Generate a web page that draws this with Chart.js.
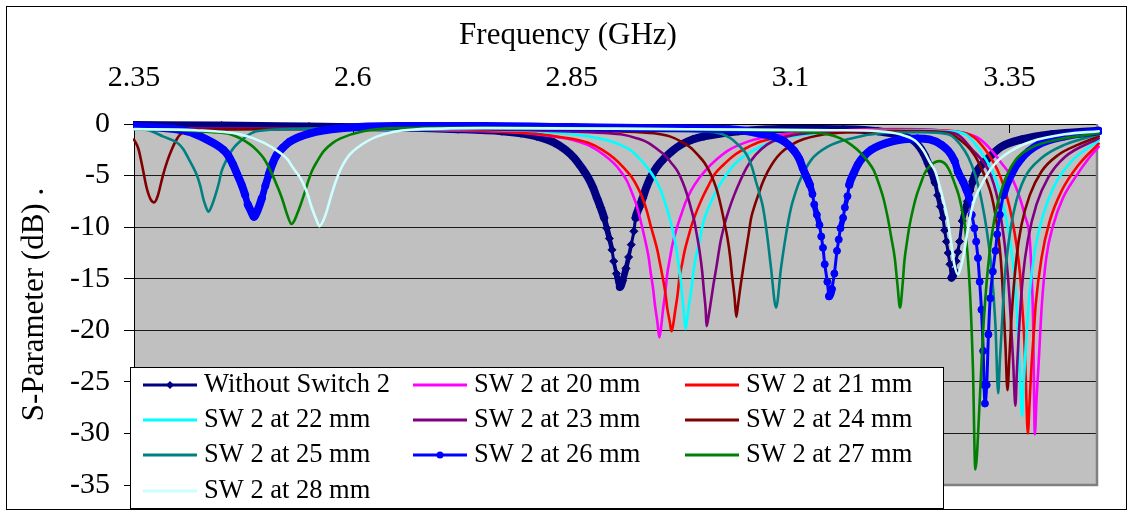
<!DOCTYPE html>
<html>
<head>
<meta charset="utf-8">
<script src="https://cdn.jsdelivr.net/npm/chart.js@4.4.0/dist/chart.umd.min.js"></script>
<style>
  html, body { margin: 0; padding: 0; background: #fff; }
  canvas { display: block; }
</style>
</head>
<body>
<canvas id="sparamChart" width="1136" height="512"></canvas>
<script>
// frequency axis ticks (GHz)
var xTickValues = [2.35, 2.6, 2.85, 3.1, 3.35];
var xTickLabels = ['2.35', '2.6', '2.85', '3.1', '3.35'];

var seriesNames = ['Without Switch 2', 'SW 2 at 20 mm', 'SW 2 at 21 mm', 'SW 2 at 22 mm', 'SW 2 at 23 mm',
  'SW 2 at 24 mm', 'SW 2 at 25 mm', 'SW 2 at 26 mm', 'SW 2 at 27 mm', 'SW 2 at 28 mm'];
var seriesColors = ['#000080', '#FF00FF', '#FF0000', '#00FFFF', '#800080',
  '#800000', '#008080', '#0000FF', '#008000', '#CCFFFF'];

// [frequency GHz, S-parameter dB]
var noSwitch = [[2.35,-0.1],[2.45,-0.15],[2.55,-0.25],[2.65,-0.35],[2.72,-0.5],[2.77,-0.7],[2.792,-0.9],[2.81,-1.2],[2.83,-1.8],[2.843,-2.5],[2.853,-3.3],[2.861,-4.2],[2.868,-5.1],[2.874,-6.1],[2.879,-7.2],[2.883,-8.1],[2.887,-9.1],[2.890,-10.1],[2.893,-11.1],[2.896,-12.2],[2.898,-13.3],[2.901,-14.5],[2.905,-15.8],[2.908,-15.2],[2.912,-14.0],[2.915,-12.9],[2.918,-11.7],[2.921,-10.4],[2.923,-9.1],[2.927,-8.1],[2.931,-7.2],[2.935,-6.2],[2.940,-5.2],[2.947,-4.2],[2.956,-3.3],[2.965,-2.6],[2.975,-2.0],[2.988,-1.5],[3.001,-1.2],[3.040,-0.7],[3.10,-0.45],[3.16,-0.5],[3.20,-0.7],[3.225,-1.1],[3.242,-1.7],[3.248,-2.3],[3.253,-3.0],[3.257,-3.8],[3.261,-4.6],[3.265,-5.7],[3.268,-6.9],[3.271,-8.0],[3.274,-9.1],[3.276,-10.3],[3.278,-11.4],[3.280,-12.5],[3.282,-13.6],[3.284,-14.9],[3.287,-14.3],[3.289,-13.3],[3.291,-12.4],[3.293,-11.4],[3.296,-9.4],[3.299,-8.4],[3.302,-7.5],[3.305,-6.5],[3.308,-5.6],[3.312,-4.7],[3.318,-4.0],[3.326,-3.3],[3.341,-2.2],[3.364,-1.5],[3.398,-1.0],[3.452,-0.65]];
var sw20 = [[2.35,-0.45],[2.55,-0.5],[2.70,-0.6],[2.78,-0.8],[2.82,-1.1],[2.849,-1.5],[2.87,-2.1],[2.887,-3.0],[2.898,-3.8],[2.906,-4.6],[2.913,-5.5],[2.918,-6.5],[2.923,-7.6],[2.927,-8.8],[2.931,-10.2],[2.935,-11.7],[2.938,-13.0],[2.940,-14.3],[2.943,-16.0],[2.945,-17.5],[2.948,-19.3],[2.950,-20.7],[2.952,-19.8],[2.954,-18.2],[2.957,-16.2],[2.959,-14.6],[2.962,-13.1],[2.965,-11.7],[2.970,-10.1],[2.975,-8.8],[2.980,-7.6],[2.986,-6.5],[2.995,-5.3],[3.005,-4.3],[3.016,-3.4],[3.028,-2.6],[3.042,-2.0],[3.059,-1.5],[3.10,-0.9],[3.16,-0.6],[3.22,-0.5],[3.27,-0.6],[3.30,-0.9],[3.315,-1.4],[3.329,-2.5],[3.341,-3.8],[3.352,-5.1],[3.362,-7.2],[3.368,-9.0],[3.373,-11.0],[3.375,-14.0],[3.377,-18.8],[3.379,-30.1],[3.381,-26.5],[3.383,-23.7],[3.387,-17.5],[3.392,-13.0],[3.400,-9.8],[3.411,-7.2],[3.425,-5.2],[3.440,-3.4],[3.452,-2.2]];
var sw21 = [[2.35,-0.45],[2.55,-0.5],[2.72,-0.6],[2.80,-0.9],[2.84,-1.3],[2.868,-1.8],[2.885,-2.5],[2.898,-3.3],[2.909,-4.2],[2.918,-5.1],[2.925,-6.1],[2.931,-7.2],[2.936,-8.5],[2.940,-9.8],[2.944,-11.0],[2.948,-12.3],[2.951,-13.6],[2.954,-14.9],[2.957,-16.4],[2.959,-17.8],[2.962,-19.2],[2.964,-20.1],[2.966,-19.4],[2.968,-18.2],[2.971,-16.5],[2.973,-14.9],[2.976,-13.6],[2.979,-12.3],[2.983,-11.0],[2.987,-9.8],[2.993,-8.4],[2.999,-7.2],[3.006,-6.0],[3.013,-4.9],[3.024,-3.9],[3.036,-3.0],[3.050,-2.3],[3.066,-1.7],[3.10,-1.1],[3.15,-0.7],[3.22,-0.55],[3.27,-0.6],[3.30,-0.9],[3.31,-1.3],[3.3225,-2.5],[3.333,-3.9],[3.340,-5.2],[3.3466,-6.9],[3.353,-9.2],[3.358,-11.7],[3.362,-14.5],[3.3645,-17.5],[3.367,-21.0],[3.3686,-24.6],[3.371,-30.0],[3.373,-27.0],[3.375,-23.7],[3.378,-20.0],[3.380,-17.5],[3.3866,-13.0],[3.396,-9.4],[3.4095,-6.5],[3.4286,-4.0],[3.452,-1.9]];
var sw22 = [[2.35,-0.45],[2.55,-0.5],[2.75,-0.55],[2.84,-0.9],[2.887,-1.5],[2.905,-2.0],[2.918,-2.6],[2.928,-3.4],[2.937,-4.3],[2.945,-5.3],[2.952,-6.5],[2.958,-8.0],[2.964,-9.8],[2.968,-11.4],[2.971,-13.0],[2.974,-14.8],[2.976,-16.5],[2.978,-18.2],[2.980,-19.9],[2.982,-18.8],[2.984,-17.5],[2.987,-15.8],[2.989,-14.3],[2.992,-12.8],[2.996,-11.4],[2.999,-10.0],[3.003,-8.8],[3.010,-7.4],[3.017,-6.2],[3.026,-5.0],[3.036,-3.9],[3.047,-3.1],[3.059,-2.5],[3.085,-1.5],[3.12,-1.0],[3.17,-0.7],[3.23,-0.6],[3.28,-0.7],[3.30,-1.0],[3.3157,-2.5],[3.3294,-4.4],[3.336,-5.8],[3.3428,-7.8],[3.348,-10.0],[3.3523,-12.3],[3.356,-15.0],[3.358,-17.5],[3.3618,-23.7],[3.3645,-28.3],[3.366,-25.5],[3.3683,-22.0],[3.3732,-16.2],[3.379,-12.3],[3.3885,-8.8],[3.4018,-5.9],[3.421,-3.6],[3.452,-1.6]];
var sw23 = [[2.35,-0.4],[2.60,-0.45],[2.80,-0.6],[2.87,-0.8],[2.906,-1.0],[2.925,-1.4],[2.937,-1.8],[2.947,-2.4],[2.956,-3.0],[2.964,-3.8],[2.971,-4.6],[2.977,-5.7],[2.982,-6.9],[2.986,-8.1],[2.990,-9.4],[2.993,-10.8],[2.996,-12.3],[2.999,-14.3],[3.001,-16.2],[3.003,-18.0],[3.004,-19.6],[3.006,-18.8],[3.009,-17.2],[3.012,-15.5],[3.015,-14.0],[3.020,-11.4],[3.025,-9.6],[3.030,-8.2],[3.036,-6.8],[3.043,-5.4],[3.050,-4.2],[3.060,-3.0],[3.073,-2.0],[3.085,-1.5],[3.110,-1.0],[3.16,-0.75],[3.22,-0.65],[3.27,-0.75],[3.29,-1.0],[3.3077,-2.5],[3.3256,-4.4],[3.332,-5.8],[3.3371,-7.5],[3.341,-9.5],[3.3446,-11.7],[3.348,-14.5],[3.3503,-17.2],[3.3542,-23.0],[3.3568,-27.3],[3.3585,-24.0],[3.3606,-20.4],[3.3656,-14.6],[3.3714,-11.1],[3.3809,-7.8],[3.3942,-5.2],[3.4133,-3.2],[3.452,-1.4]];
var sw24 = [[2.35,-1.5],[2.355,-2.4],[2.359,-3.9],[2.3645,-6.2],[2.369,-7.3],[2.373,-7.6],[2.377,-7.0],[2.383,-5.0],[2.388,-3.6],[2.393,-2.5],[2.398,-1.6],[2.403,-1.0],[2.42,-0.6],[2.50,-0.5],[2.70,-0.45],[2.85,-0.55],[2.90,-0.7],[2.944,-0.9],[2.962,-1.2],[2.975,-1.7],[2.986,-2.3],[2.994,-3.0],[3.002,-3.8],[3.009,-4.9],[3.015,-6.2],[3.020,-7.8],[3.024,-9.4],[3.028,-11.1],[3.031,-12.9],[3.033,-14.6],[3.036,-16.8],[3.038,-18.7],[3.040,-17.5],[3.043,-15.6],[3.046,-13.9],[3.049,-12.3],[3.052,-10.7],[3.055,-9.1],[3.059,-7.9],[3.063,-6.9],[3.068,-5.7],[3.074,-4.6],[3.081,-3.6],[3.089,-2.8],[3.098,-2.2],[3.108,-1.7],[3.139,-1.0],[3.19,-0.75],[3.25,-0.7],[3.28,-0.9],[3.30,-2.0],[3.31,-3.0],[3.318,-4.3],[3.324,-5.5],[3.3294,-6.9],[3.334,-8.8],[3.3371,-10.7],[3.340,-13.0],[3.342,-15.6],[3.3454,-21.4],[3.3477,-25.8],[3.350,-22.5],[3.3523,-18.8],[3.358,-13.0],[3.3637,-9.8],[3.3732,-6.9],[3.3866,-4.6],[3.4057,-3.0],[3.4286,-2.0],[3.452,-1.2]];
var sw25 = [[2.35,-0.4],[2.37,-0.7],[2.383,-1.2],[2.399,-1.8],[2.406,-2.4],[2.412,-3.3],[2.417,-4.1],[2.422,-5.0],[2.426,-6.1],[2.429,-7.2],[2.432,-8.0],[2.435,-8.5],[2.438,-8.1],[2.443,-6.9],[2.447,-5.7],[2.450,-4.6],[2.455,-3.6],[2.460,-2.8],[2.465,-2.2],[2.471,-1.7],[2.480,-1.1],[2.490,-0.7],[2.55,-0.45],[2.70,-0.4],[2.85,-0.5],[2.95,-0.6],[3.013,-0.8],[3.030,-1.3],[3.040,-2.0],[3.050,-3.0],[3.056,-4.2],[3.0605,-5.6],[3.065,-6.9],[3.0685,-8.1],[3.0731,-10.7],[3.0777,-14.0],[3.0834,-17.8],[3.089,-14.0],[3.0948,-10.7],[3.1006,-8.1],[3.105,-6.8],[3.110,-5.6],[3.1234,-3.5],[3.1425,-2.2],[3.1692,-1.4],[3.2035,-0.9],[3.25,-0.8],[3.28,-1.0],[3.2989,-2.6],[3.307,-4.0],[3.3142,-5.9],[3.319,-7.8],[3.3237,-10.1],[3.3294,-14.0],[3.334,-19.5],[3.3371,-26.1],[3.339,-23.0],[3.3408,-20.4],[3.3446,-14.9],[3.3492,-11.4],[3.356,-8.1],[3.3675,-5.2],[3.3866,-3.3],[3.4133,-2.0],[3.452,-1.0]];
var sw26 = [[2.35,-0.2],[2.385,-0.4],[2.410,-0.7],[2.433,-1.5],[2.452,-2.5],[2.458,-3.1],[2.463,-3.9],[2.468,-4.9],[2.473,-5.9],[2.477,-6.9],[2.480,-7.8],[2.484,-8.5],[2.487,-9.0],[2.491,-8.4],[2.496,-7.2],[2.500,-6.0],[2.504,-4.9],[2.508,-3.9],[2.513,-3.0],[2.520,-2.3],[2.528,-1.7],[2.551,-0.9],[2.589,-0.4],[2.65,-0.2],[2.75,-0.2],[2.85,-0.3],[2.95,-0.4],[3.03,-0.5],[3.063,-0.9],[3.093,-1.7],[3.104,-2.6],[3.110,-3.4],[3.114,-4.3],[3.118,-5.1],[3.122,-5.9],[3.125,-6.8],[3.127,-7.8],[3.130,-8.8],[3.133,-9.8],[3.135,-10.9],[3.137,-12.0],[3.139,-13.6],[3.142,-15.3],[3.144,-16.7],[3.147,-16.0],[3.150,-14.5],[3.153,-12.3],[3.155,-11.2],[3.157,-10.1],[3.160,-9.1],[3.162,-8.1],[3.165,-7.0],[3.167,-5.9],[3.172,-4.8],[3.177,-3.9],[3.184,-3.1],[3.192,-2.5],[3.215,-1.7],[3.245,-1.4],[3.272,-2.0],[3.2874,-3.6],[3.291,-4.6],[3.297,-5.6],[3.301,-6.4],[3.304,-7.2],[3.307,-8.8],[3.310,-10.1],[3.312,-11.4],[3.314,-13.0],[3.316,-15.3],[3.318,-18.0],[3.320,-22.0],[3.321,-25.3],[3.322,-27.1],[3.324,-25.3],[3.326,-20.4],[3.328,-16.9],[3.331,-14.3],[3.334,-12.3],[3.336,-10.7],[3.339,-8.8],[3.343,-6.9],[3.352,-4.9],[3.364,-3.3],[3.383,-2.0],[3.413,-1.2],[3.452,-0.7]];
var sw27 = [[2.35,-0.5],[2.40,-0.6],[2.44,-0.8],[2.460,-1.0],[2.483,-2.0],[2.491,-2.6],[2.498,-3.3],[2.504,-4.2],[2.509,-5.1],[2.514,-6.1],[2.519,-7.2],[2.522,-8.0],[2.525,-8.8],[2.530,-9.7],[2.533,-9.4],[2.536,-8.8],[2.540,-7.9],[2.544,-6.9],[2.548,-5.8],[2.553,-4.6],[2.560,-3.5],[2.567,-2.6],[2.576,-1.9],[2.586,-1.4],[2.612,-0.7],[2.651,-0.4],[2.75,-0.35],[2.90,-0.45],[3.00,-0.55],[3.10,-0.7],[3.142,-1.0],[3.157,-1.4],[3.169,-2.0],[3.180,-2.8],[3.188,-3.6],[3.195,-4.5],[3.200,-5.6],[3.206,-7.2],[3.211,-9.1],[3.215,-11.0],[3.219,-13.0],[3.222,-15.5],[3.225,-17.8],[3.228,-15.5],[3.230,-13.3],[3.233,-11.4],[3.236,-9.8],[3.240,-8.2],[3.244,-6.9],[3.249,-5.7],[3.253,-4.8],[3.258,-4.2],[3.263,-3.8],[3.270,-3.6],[3.277,-3.9],[3.283,-4.8],[3.288,-5.9],[3.292,-6.9],[3.296,-8.4],[3.299,-9.8],[3.3045,-15.6],[3.3083,-23.7],[3.311,-33.5],[3.316,-26.9],[3.3197,-20.4],[3.3254,-14.0],[3.333,-9.1],[3.3428,-5.9],[3.356,-3.6],[3.375,-2.3],[3.4057,-1.5],[3.452,-0.9]];
var sw28 = [[2.35,-0.5],[2.42,-0.6],[2.471,-1.0],[2.498,-1.8],[2.517,-2.8],[2.526,-3.5],[2.532,-4.3],[2.539,-5.1],[2.544,-5.9],[2.549,-7.0],[2.553,-8.1],[2.558,-9.2],[2.562,-9.9],[2.566,-9.4],[2.570,-8.5],[2.574,-7.3],[2.578,-6.2],[2.583,-5.0],[2.589,-3.9],[2.596,-3.0],[2.605,-2.3],[2.628,-1.2],[2.666,-0.55],[2.75,-0.4],[2.90,-0.45],[3.05,-0.55],[3.15,-0.6],[3.20,-0.7],[3.225,-1.0],[3.242,-1.6],[3.252,-2.6],[3.259,-3.7],[3.2653,-4.6],[3.272,-6.6],[3.279,-9.1],[3.283,-11.3],[3.287,-13.6],[3.2913,-14.6],[3.294,-14.0],[3.297,-13.0],[3.3027,-10.1],[3.3083,-7.8],[3.318,-5.9],[3.333,-3.9],[3.352,-2.6],[3.375,-1.7],[3.413,-1.0],[3.452,-0.7]];

var seriesData = [noSwitch, sw20, sw21, sw22, sw23, sw24, sw25, sw26, sw27, sw28];

var serif = "'Times New Roman', 'Liberation Serif', serif";
Chart.defaults.font.family = serif;
Chart.defaults.color = '#000';

// the marked series look like a thick band where the dense markers overlap
function bandWidth(ctx) {
  var dx = Math.abs(ctx.p1.x - ctx.p0.x) || 0.01;
  var slope = Math.abs(ctx.p1.y - ctx.p0.y) / dx;
  return Math.max(3, Math.min(8, 8 - (slope - 3) * 2.5));
}

var datasets = seriesData.map(function (pts, i) {
  var marked = (i === 0 || i === 7);
  return {
    label: seriesNames[i],
    data: pts.map(function (p) { return { x: p[0], y: p[1] }; }),
    borderColor: seriesColors[i],
    backgroundColor: seriesColors[i],
    pointBorderColor: seriesColors[i],
    borderWidth: marked ? 3 : 2.6,
    borderCapStyle: 'round',
    borderJoinStyle: 'round',
    pointRadius: marked ? (i === 0 ? 4 : 3.5) : 0,
    pointStyle: i === 0 ? 'rectRot' : 'circle',
    pointBorderWidth: 1,
    cubicInterpolationMode: 'monotone',
    order: seriesData.length - i,
    clip: { left: 1, top: 5, right: 5, bottom: 1 },
    segment: marked ? { borderWidth: bandWidth } : undefined
  };
});

var plotFrame = {
  id: 'plotFrame',
  beforeDraw: function (chart) {
    var a = chart.chartArea, ctx = chart.ctx;
    ctx.save();
    ctx.fillStyle = '#C0C0C0';
    ctx.fillRect(a.left, a.top, a.right - a.left, a.bottom - a.top);
    ctx.restore();
  },
  beforeDatasetsDraw: function (chart) {
    var a = chart.chartArea, ctx = chart.ctx;
    ctx.save();
    ctx.strokeStyle = '#808080';
    ctx.lineWidth = 2.5;
    ctx.beginPath();
    ctx.moveTo(a.right, a.top);
    ctx.lineTo(a.right, a.bottom);
    ctx.lineTo(a.left, a.bottom);
    ctx.stroke();
    // tick marks of the top axis point into the plot
    ctx.strokeStyle = '#000';
    ctx.lineWidth = 1;
    xTickValues.forEach(function (v) {
      var px = Math.round(chart.scales.x.getPixelForValue(v)) + 0.5;
      ctx.beginPath();
      ctx.moveTo(px, a.top);
      ctx.lineTo(px, a.top + 9);
      ctx.stroke();
    });
    ctx.restore();
  },
  afterDraw: function (chart) {
    var ctx = chart.ctx;
    ctx.save();
    ctx.strokeStyle = '#000';
    ctx.lineWidth = 1;
    ctx.strokeRect(6.5, 6.5, 1120, 503);
    ctx.restore();
  }
};

var boxLegend = {
  id: 'boxLegend',
  afterDraw: function (chart) {
    var ctx = chart.ctx;
    var lineX = [143, 413, 685];
    ctx.save();
    ctx.fillStyle = '#fff';
    ctx.fillRect(130, 367, 813, 141);
    ctx.strokeStyle = '#000';
    ctx.lineWidth = 1;
    ctx.strokeRect(130.5, 367.5, 813, 141);
    ctx.font = '26.5px ' + serif;
    ctx.textBaseline = 'middle';
    ctx.textAlign = 'left';
    chart.data.datasets.forEach(function (ds, i) {
      var x0 = lineX[i % 3];
      var y = Math.round(385 + Math.floor(i / 3) * 35.2);
      ctx.strokeStyle = ds.borderColor;
      ctx.fillStyle = ds.borderColor;
      ctx.lineWidth = 3;
      ctx.beginPath();
      ctx.moveTo(x0, y);
      ctx.lineTo(x0 + 54, y);
      ctx.stroke();
      var cx = x0 + 27;
      if (ds.pointStyle === 'rectRot' && ds.pointRadius > 0) {
        ctx.beginPath();
        ctx.moveTo(cx, y - 4); ctx.lineTo(cx + 4, y); ctx.lineTo(cx, y + 4); ctx.lineTo(cx - 4, y);
        ctx.closePath();
        ctx.fill();
      } else if (ds.pointRadius > 0) {
        ctx.beginPath();
        ctx.arc(cx, y, 3.5, 0, Math.PI * 2);
        ctx.fill();
      }
      ctx.fillStyle = '#000';
      ctx.fillText(ds.label, x0 + 61, y);
    });
    ctx.restore();
  }
};

var ctx = document.getElementById('sparamChart').getContext('2d');
var sparamChart = new Chart(ctx, {
  type: 'line',
  data: { datasets: datasets },
  options: {
    responsive: false,
    animation: false,
    devicePixelRatio: 1,
    layout: { padding: { left: 0, right: 0, top: 0, bottom: 27 } },
    plugins: {
      legend: { display: false },
      tooltip: { enabled: false },
      title: {
        display: true,
        text: 'Frequency (GHz)',
        color: '#000',
        font: { family: serif, size: 31, weight: 'normal', lineHeight: 1.2 },
        padding: { top: 17, bottom: 8 }
      }
    },
    scales: {
      x: {
        type: 'linear',
        position: 'top',
        min: 2.35,
        max: 3.45,
        afterBuildTicks: function (scale) {
          scale.ticks = xTickValues.map(function (v) { return { value: v }; });
        },
        afterFit: function (scale) { scale.height = 61.8; },
        grid: { display: false },
        border: { display: true, color: '#000', width: 1 },
        ticks: {
          padding: 20,
          font: { size: 30 },
          maxRotation: 0,
          callback: function (v, i) { return xTickLabels[i]; }
        }
      },
      y: {
        position: 'left',
        min: -35,
        max: 0,
        afterFit: function (scale) {
          scale.width = 134;
          scale.paddingTop = 0;
          scale.paddingBottom = 0;
        },
        grid: {
          color: function (c) { return c.tick && c.tick.value === -35 ? 'rgba(0,0,0,0)' : '#1a1a1a'; },
          tickColor: '#000',
          tickLength: 10,
          lineWidth: 1
        },
        border: { display: true, color: '#000', width: 1 },
        ticks: { stepSize: 5, padding: 14, font: { size: 30 } },
        title: {
          display: true,
          text: 'S-Parameter (dB) .',
          font: { size: 31, lineHeight: 1.2 },
          padding: { top: 16, bottom: 0 }
        }
      },
      yRight: {
        position: 'right',
        display: true,
        afterFit: function (scale) { scale.width = 39; },
        grid: { display: false, drawTicks: false },
        border: { display: false },
        ticks: { display: false }
      }
    }
  },
  plugins: [plotFrame, boxLegend]
});
</script>
</body>
</html>
